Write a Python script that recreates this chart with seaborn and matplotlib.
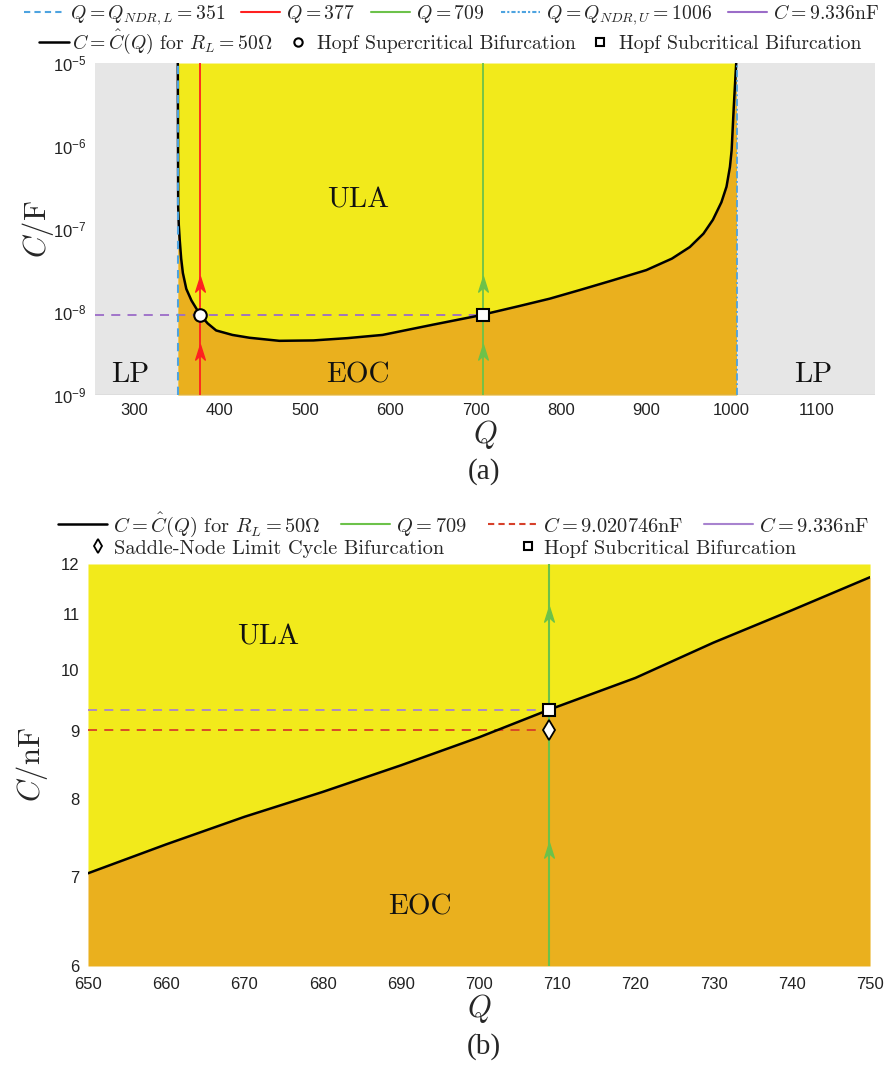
import matplotlib
matplotlib.use("Agg")
import numpy as np
import pandas as pd
import matplotlib.pyplot as plt
from matplotlib.lines import Line2D
from matplotlib.path import Path
from matplotlib.ticker import FixedLocator, FixedFormatter, NullLocator
import seaborn as sns

# ---------------- data ----------------
# stability boundary C = C_hat(Q) for R_L = 50 Ohm, full range (F)
q_bound = [351.0, 351.5, 352.2, 353.3, 355.0, 357.0, 361.0, 367.0, 377.0, 386.0, 396.0,
           415.0, 435.0, 470.0, 510.0, 550.0, 591.0, 650.0, 700.0, 709.0, 750.0,
           787.0, 822.0, 860.0, 900.0, 930.0, 951.0, 967.0, 978.0, 988.0, 994.0,
           998.0, 1000.0, 1002.5, 1004.5, 1006.0]
c_bound = [1.3e-5, 1.86e-7, 1.12e-7, 7.4e-8, 4.4e-8, 2.95e-8, 1.9e-8, 1.38e-8, 9.336e-9,
           7.3e-9, 6.0e-9, 5.3e-9, 4.9e-9, 4.5e-9, 4.55e-9, 4.85e-9, 5.3e-9, 7.04e-9,
           8.90e-9, 9.336e-9, 1.173e-8, 1.45e-8, 1.84e-8, 2.4e-8, 3.2e-8, 4.4e-8,
           6.07e-8, 8.8e-8, 1.29e-7, 2.1e-7, 3.24e-7, 5.6e-7, 8.9e-7, 2.95e-6, 7.0e-6, 1.3e-5]

# zoomed boundary (nF)
q_zoom = [650, 660, 670, 680, 690, 700, 709, 720, 730, 740, 750]
c_zoom = [7.04, 7.40, 7.76, 8.10, 8.48, 8.90, 9.336, 9.86, 10.48, 11.08, 11.73]

q_ndr_l, q_ndr_u = 351, 1006
q_super, q_sub = 377, 709
c_hopf_nf = 9.336
c_sn_nf = 9.020746

arrows_a = [2.2e-8, 3.3e-9]      # flow arrows along Q = 377 and Q = 709 (F)
arrows_b = [11.0, 7.33]          # flow arrows along Q = 709 (nF)

xticks_a = [300, 400, 500, 600, 700, 800, 900, 1000, 1100]
yticks_a = [1e-9, 1e-8, 1e-7, 1e-6, 1e-5]
ytick_labels_a = [r"$\mathregular{10^{-9}}$", r"$\mathregular{10^{-8}}$", r"$\mathregular{10^{-7}}$",
                  r"$\mathregular{10^{-6}}$", r"$\mathregular{10^{-5}}$"]
xticks_b = [650, 660, 670, 680, 690, 700, 710, 720, 730, 740, 750]
yticks_b = [6, 7, 8, 9, 10, 11, 12]

# ---------------- style ----------------
sns.set_theme(style="white")
plt.rcParams["font.family"] = ["Liberation Sans", "DejaVu Sans"]
plt.rcParams["mathtext.fontset"] = "cm"
plt.rcParams["axes.unicode_minus"] = False

YELLOW = "#F2EA1B"
ORANGE = "#EAB01E"
GRAY = "#E6E6E6"
BLUE = "#4DA3E0"
RED = "#FF2020"
GREEN = "#6CC24A"
PURPLE = "#9B6CC8"
LAVENDER = "#A883CF"
DARKRED = "#D6402A"

CM = "cmr10"

# stealth-style arrowhead marker
arrow_marker = Path([(0, 0.6), (-0.38, -0.6), (0, -0.25), (0.38, -0.6), (0, 0.6)],
                    [Path.MOVETO, Path.LINETO, Path.LINETO, Path.LINETO, Path.CLOSEPOLY])

fig = plt.figure(figsize=(8.86, 10.70), dpi=100)

# ================= panel (a) =================
ax = fig.add_axes([0.1072, 0.6308, 0.8804, 0.3103])
xlo, xhi = 254, 1168
ylo, yhi = 1e-9, 1e-5
ax.set_yscale("log")

qb = np.array(q_bound)
cb = np.array(c_bound)
ax.fill_between(qb, ylo, np.minimum(cb, yhi), color=ORANGE, lw=0, zorder=0)
ax.fill_between(qb, np.minimum(cb, yhi), yhi, color=YELLOW, lw=0, zorder=0)
ax.axvspan(xlo, q_ndr_l, color=GRAY, lw=0, zorder=0)
ax.axvspan(q_ndr_u, xhi, color=GRAY, lw=0, zorder=0)

ax.plot([xlo, q_sub], [c_hopf_nf * 1e-9] * 2, ls=(0, (5, 4)), color=PURPLE, lw=1.3, zorder=2)
ax.plot([q_super, q_super], [ylo, yhi], color=RED, lw=1.3, zorder=2)
ax.plot([q_sub, q_sub], [ylo, yhi], color=GREEN, lw=1.3, zorder=2)
sns.lineplot(x=qb, y=cb, sort=False, color="black", lw=1.8, ax=ax, zorder=3)
ax.plot([q_ndr_l, q_ndr_l], [ylo, yhi], ls=(0, (4, 3)), color=BLUE, lw=1.5, zorder=4)
ax.plot([q_ndr_u, q_ndr_u], [ylo, yhi], ls=(0, (4, 1.5, 1, 1.5)), color=BLUE, lw=1.3, zorder=4)

for c in arrows_a:
    ax.plot(q_super, c, marker=arrow_marker, ms=11, color=RED, mec=RED, zorder=5)
    ax.plot(q_sub, c, marker=arrow_marker, ms=11, color=GREEN, mec=GREEN, zorder=5)

ax.plot(q_super, c_hopf_nf * 1e-9, "o", ms=9, mfc="white", mec="black", mew=1.5, zorder=6)
ax.plot(q_sub, c_hopf_nf * 1e-9, "s", ms=8, mfc="white", mec="black", mew=1.5, zorder=6)

ax.set_xlim(xlo, xhi)
ax.set_ylim(ylo, yhi)
ax.xaxis.set_major_locator(FixedLocator(xticks_a))
ax.yaxis.set_major_locator(FixedLocator(yticks_a))
ax.yaxis.set_major_formatter(FixedFormatter(ytick_labels_a))
ax.yaxis.set_minor_locator(NullLocator())
ax.tick_params(axis="both", length=0, labelsize=12, pad=6, colors="#222222")
for s in ax.spines.values():
    s.set_visible(False)
ax.axhline(ylo, color="#BBBBBB", lw=1.0, zorder=1)
ax.set_xlabel(r"$Q$", fontsize=22, labelpad=0)
ax.set_ylabel(r"$C/\mathrm{F}$", fontsize=22, labelpad=-2)

txt = dict(fontfamily=CM, fontsize=21, ha="center", va="center", color="#111111")
ax.text(562, 2.2e-7, "ULA", **txt)
ax.text(562, 1.75e-9, "EOC", **txt)
ax.text(295, 1.75e-9, "LP", **txt)
ax.text(1095, 1.75e-9, "LP", **txt)

# legends (two rows)
row1 = [
    Line2D([], [], color=BLUE, ls=(0, (3, 2)), lw=1.5),
    Line2D([], [], color=RED, lw=1.5),
    Line2D([], [], color=GREEN, lw=1.5),
    Line2D([], [], color=BLUE, ls=(0, (2, 1, 1, 1)), lw=1.5),
    Line2D([], [], color=PURPLE, lw=1.5),
]
lab1 = [r"$Q=Q_{NDR,L}=351$", r"$Q=377$", r"$Q=709$", r"$Q=Q_{NDR,U}=1006$", r"$C=9.336\mathrm{nF}$"]
row2 = [
    Line2D([], [], color="black", lw=1.8),
    Line2D([], [], ls="none", marker="o", ms=6, mfc="white", mec="black", mew=1.5),
    Line2D([], [], ls="none", marker="s", ms=6, mfc="white", mec="black", mew=1.5),
]
lab2 = [r"$C=\hat{C}(Q)$ for $R_L=50\Omega$", "Hopf Supercritical Bifurcation", "Hopf Subcritical Bifurcation"]
legkw = dict(frameon=False, loc="center", prop={"family": CM, "size": 14.2},
             handlelength=2.0, handletextpad=0.3, borderaxespad=0, borderpad=0)
fig.legend(row1, lab1, ncol=5, bbox_to_anchor=(0.51, 0.986), columnspacing=0.8, **legkw)
fig.legend(row2, lab2, ncol=3, bbox_to_anchor=(0.508, 0.961), columnspacing=0.5,
           **{**legkw, "handlelength": 1.5, "handletextpad": 0.2})

fig.text(0.546, 0.559, "(a)", fontfamily="Liberation Serif", fontsize=21, ha="center", va="center")

# ================= panel (b) =================
bx = fig.add_axes([0.0993, 0.0972, 0.8827, 0.3757])
xlo_b, xhi_b = 650, 750
ylo_b, yhi_b = 6, 12
bx.set_yscale("log")

qz = np.array(q_zoom)
cz = np.array(c_zoom)
bx.fill_between(qz, ylo_b, cz, color=ORANGE, lw=0, zorder=0)
bx.fill_between(qz, cz, yhi_b, color=YELLOW, lw=0, zorder=0)

bx.plot([xlo_b, q_sub], [c_hopf_nf] * 2, ls=(0, (5, 4)), color=LAVENDER, lw=1.3, zorder=2)
bx.plot([xlo_b, q_sub], [c_sn_nf] * 2, ls=(0, (5, 4)), color=DARKRED, lw=1.3, zorder=2)
bx.plot([q_sub, q_sub], [ylo_b, yhi_b], color=GREEN, lw=1.5, zorder=2)
sns.lineplot(x=qz, y=cz, sort=False, color="black", lw=1.8, ax=bx, zorder=3)
for c in arrows_b:
    bx.plot(q_sub, c, marker=arrow_marker, ms=11, color=GREEN, mec=GREEN, zorder=5)
bx.plot(q_sub, c_hopf_nf, "s", ms=8, mfc="white", mec="black", mew=1.5, zorder=6)
bx.plot(q_sub, c_sn_nf, "d", ms=10, mfc="white", mec="black", mew=1.3, zorder=6)

bx.set_xlim(xlo_b, xhi_b)
bx.set_ylim(ylo_b, yhi_b)
bx.xaxis.set_major_locator(FixedLocator(xticks_b))
bx.yaxis.set_major_locator(FixedLocator(yticks_b))
bx.yaxis.set_major_formatter(FixedFormatter([str(v) for v in yticks_b]))
bx.yaxis.set_minor_locator(NullLocator())
bx.tick_params(axis="y", length=0, labelsize=12, pad=6, colors="#222222")
bx.tick_params(axis="x", length=0, labelsize=12, pad=8, colors="#222222")
for s in bx.spines.values():
    s.set_visible(False)
bx.set_xlabel(r"$Q$", fontsize=22, labelpad=0)
bx.set_ylabel(r"$C/\mathrm{nF}$", fontsize=22, labelpad=8)

bx.text(673, 10.58, "ULA", **txt)
bx.text(692.5, 6.64, "EOC", **txt)

row1b = [
    Line2D([], [], color="black", lw=1.8),
    Line2D([], [], color=GREEN, lw=1.5),
    Line2D([], [], color=DARKRED, ls=(0, (3, 2)), lw=1.5),
    Line2D([], [], color=LAVENDER, lw=1.5),
]
lab1b = [r"$C=\hat{C}(Q)$ for $R_L=50\Omega$", r"$Q=709$", r"$C=9.020746\mathrm{nF}$", r"$C=9.336\mathrm{nF}$"]
row2b = [
    Line2D([], [], ls="none", marker="d", ms=7, mfc="white", mec="black", mew=1.3),
    Line2D([], [], ls="none", marker="s", ms=6, mfc="white", mec="black", mew=1.5),
]
lab2b = ["Saddle-Node Limit Cycle Bifurcation", "Hopf Subcritical Bifurcation"]
fig.legend(row1b, lab1b, ncol=4, bbox_to_anchor=(0.523, 0.510), columnspacing=1.0,
           **{**legkw, "prop": {"family": CM, "size": 14.7}, "handlelength": 2.4})
fig.legend(row2b, lab2b, ncol=2, bbox_to_anchor=(0.499, 0.4875), columnspacing=3.6,
           **{**legkw, "prop": {"family": CM, "size": 14.7}, "handlelength": 1.0, "handletextpad": 0.3})

fig.text(0.546, 0.022, "(b)", fontfamily="Liberation Serif", fontsize=21, ha="center", va="center")

fig.savefig("out.png", dpi=100, facecolor="white")
